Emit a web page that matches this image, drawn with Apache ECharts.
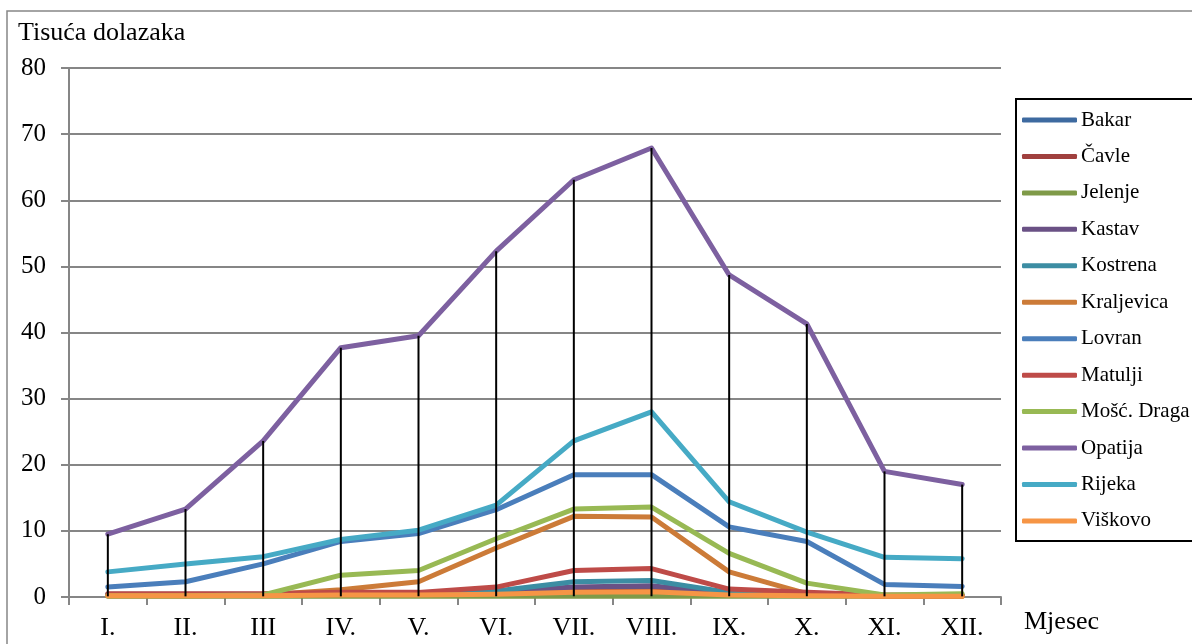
<!DOCTYPE html>
<html>
<head>
<meta charset="utf-8">
<script src="https://cdn.jsdelivr.net/npm/echarts@6/dist/echarts.min.js"></script>
<style>
html,body{margin:0;padding:0;background:#fff;}
#chart{width:1192px;height:644px;}
</style>
</head>
<body>
<div id="chart"></div>
<script>
const categories = ['I.','II.','III','IV.','V.','VI.','VII.','VIII.','IX.','X.','XI.','XII.'];
const yTicks = [0,10,20,30,40,50,60,70,80];
const seriesNames = ['Bakar','Čavle','Jelenje','Kastav','Kostrena','Kraljevica','Lovran','Matulji','Mošć. Draga','Opatija','Rijeka','Viškovo'];
const bakar      = [0.3,0.3,0.3,0.4,0.4,0.6,1.0,1.1,0.5,0.3,0.2,0.2];
const cavle      = [0.3,0.3,0.3,0.4,0.4,0.5,0.8,0.9,0.4,0.3,0.2,0.2];
const jelenje    = [0.1,0.1,0.1,0.1,0.1,0.1,0.1,0.1,0.1,0.1,0.1,0.1];
const kastav     = [0.3,0.3,0.3,0.4,0.5,0.8,1.5,1.7,0.5,0.3,0.2,0.2];
const kostrena   = [0.4,0.4,0.4,0.5,0.6,0.9,2.3,2.5,0.7,0.4,0.2,0.2];
const kraljevica = [0.2,0.2,0.3,1.1,2.3,7.4,12.2,12.1,3.8,0.5,0.1,0.1];
const lovran     = [1.5,2.3,5.0,8.4,9.6,13.2,18.5,18.5,10.6,8.4,1.9,1.6];
const matulji    = [0.5,0.5,0.5,0.7,0.7,1.5,4.0,4.3,1.2,0.7,0.3,0.3];
const moscDraga  = [0.2,0.2,0.3,3.3,4.0,8.8,13.3,13.6,6.6,2.1,0.3,0.5];
const opatija    = [9.5,13.3,23.6,37.7,39.5,52.3,63.1,67.9,48.7,41.3,19.0,17.0];
const rijeka     = [3.8,5.0,6.1,8.7,10.1,13.9,23.6,28.0,14.4,9.8,6.0,5.8];
const viskovo    = [0.2,0.2,0.2,0.3,0.3,0.4,0.7,0.8,0.3,0.2,0.1,0.1];

const allData = [bakar,cavle,jelenje,kastav,kostrena,kraljevica,lovran,matulji,moscDraga,opatija,rijeka,viskovo];
const colors = ['#3E6AA0','#A0403E','#7F9A48','#6A5185','#3C8DA3','#CC7B38','#4A7EBB','#BE4B48','#98B954','#7D60A0','#46AAC5','#F69545'];

const serif = '"Liberation Serif","Times New Roman",serif';
const gray = '#868686';

const lineSeries = seriesNames.map((n,i)=>({
  name:n, type:'line', data:allData[i], symbol:'none', showSymbol:false,
  lineStyle:{width:5,color:colors[i],cap:'round',join:'round'},
  itemStyle:{color:colors[i]}, z:2
}));

const hiLow = categories.map((c,i)=>{
  const vals = allData.map(a=>a[i]);
  return [i, Math.min(...vals), Math.max(...vals)];
});

const chart = echarts.init(document.getElementById('chart'));
chart.setOption({
  animation:false,
  backgroundColor:'#fff',
  color:colors,
  grid:{left:69,right:191,top:68,bottom:47,containLabel:false},
  graphic:[
    {type:'rect',z:-10,shape:{x:7,y:11,width:1400,height:800},style:{fill:null,stroke:gray,lineWidth:1.5}},
    {type:'text',left:18,top:20,style:{text:'Tisuća dolazaka',font:'26px '+serif,fill:'#000'}},
    {type:'text',left:1024,top:609,style:{text:'Mjesec',font:'26px '+serif,fill:'#000'}}
  ],
  legend:{
    orient:'vertical', left:1016, top:99,
    data:seriesNames,
    icon:'roundRect', itemWidth:55, itemHeight:5, itemGap:12.45,
    padding:[9,12,8,6],
    borderColor:'#000', borderWidth:2,
    textStyle:{fontFamily:serif,fontSize:21,color:'#000',lineHeight:24,padding:[0,0,0,-1]}
  },
  xAxis:{
    type:'category', data:categories, boundaryGap:true,
    axisLine:{lineStyle:{color:gray,width:2}},
    axisTick:{show:true,length:8,lineStyle:{color:gray,width:2}},
    axisLabel:{fontFamily:serif,fontSize:26,color:'#000',margin:18,interval:0},
    splitLine:{show:false}
  },
  yAxis:{
    type:'value', min:0, max:80, interval:10,
    axisLine:{show:true,lineStyle:{color:gray,width:2}},
    axisTick:{show:true,length:8,lineStyle:{color:gray,width:2}},
    axisLabel:{fontFamily:serif,fontSize:25,color:'#000',margin:23,
      formatter:v=>yTicks.includes(v)?String(v):''},
    splitLine:{show:true,lineStyle:{color:gray,width:2}}
  },
  series:[...lineSeries,{
    type:'custom', name:'hilow', data:hiLow, z:5, silent:true,
    encode:{x:0,y:[1,2]},
    renderItem:(params,api)=>{
      const p1 = api.coord([api.value(0), api.value(1)]);
      const p2 = api.coord([api.value(0), api.value(2)]);
      return {type:'line',shape:{x1:p1[0],y1:p1[1],x2:p2[0],y2:p2[1]},style:{stroke:'#000',lineWidth:2}};
    }
  }]
});
</script>
</body>
</html>
